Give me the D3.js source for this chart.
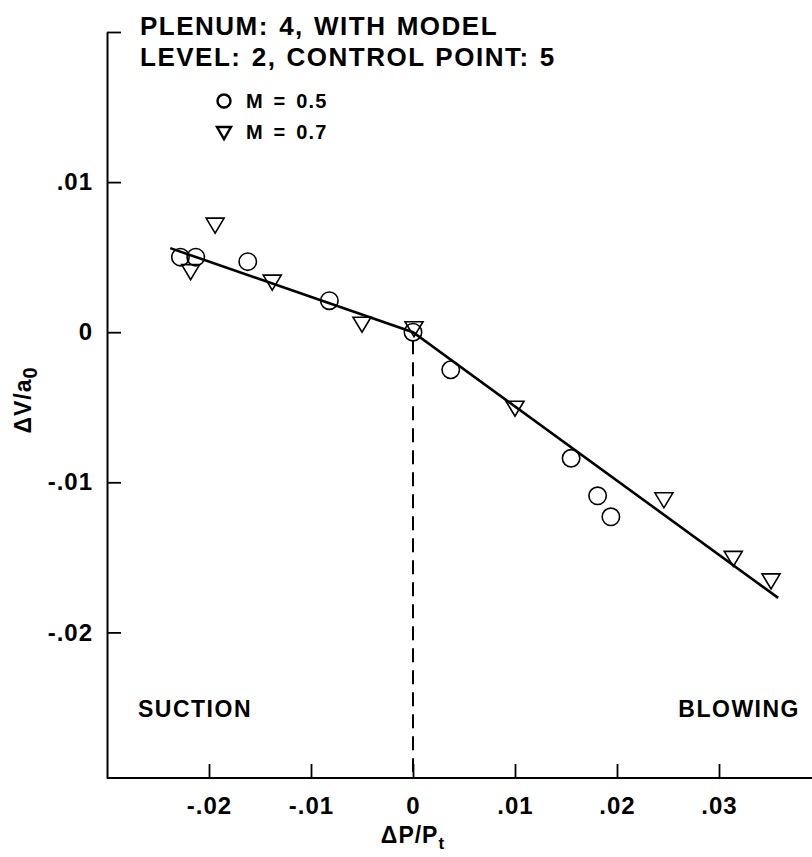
<!DOCTYPE html>
<html>
<head>
<meta charset="utf-8">
<script src="https://cdn.jsdelivr.net/npm/d3@7"></script>
<style>
  html, body { margin: 0; padding: 0; background: #fff; }
  svg { display: block; }
  text { font-family: "Liberation Sans", Arial, Helvetica, sans-serif; font-weight: bold; fill: #000; }
</style>
</head>
<body>
<svg id="chart" width="812" height="857"></svg>
<script>
// Plenum 4 velocity change vs. pressure ratio, two Mach numbers
const titleLines = ["PLENUM: 4, WITH MODEL", "LEVEL: 2, CONTROL POINT: 5"];
const seriesNames = ["M = 0.5", "M = 0.7"];

// M = 0.5 (circles)
const m05_dp = [-0.0228, -0.0213, -0.0162, -0.0082, 0.0000, 0.0037, 0.0155, 0.0181, 0.0194];
const m05_dv = [ 0.0050,  0.0050,  0.0047,  0.0021, 0.0000, -0.0025, -0.0084, -0.0109, -0.0123];

// M = 0.7 (inverted triangles)
const m07_dp = [-0.0194, -0.0218, -0.0138, -0.0050, 0.0001, 0.0100, 0.0246, 0.0314, 0.0351];
const m07_dv = [ 0.0071,  0.0040,  0.0033,  0.0005, 0.0002, -0.0051, -0.0112, -0.0151, -0.0166];

// Faired line (two straight segments meeting at the origin)
const fit_dp = [-0.0238, 0.0, 0.0358];
const fit_dv = [ 0.0056, 0.0, -0.0177];

const xTicks = [-0.02, -0.01, 0, 0.01, 0.02, 0.03];
const xTickLabels = ["-.02", "-.01", "0", ".01", ".02", ".03"];
const yTicks = [0.02, 0.01, 0, -0.01, -0.02];
const yTickLabels = ["", ".01", "0", "-.01", "-.02"];
const regionLabels = ["SUCTION", "BLOWING"];

const svg = d3.select("#chart");

const x = d3.scaleLinear().domain([-0.03, 0.04]).range([107, 821]);
const y = d3.scaleLinear().domain([-0.0297, 0.02]).range([778, 32]);

// Axes
const xAxis = d3.axisBottom(x)
  .tickValues(xTicks)
  .tickFormat((d, i) => xTickLabels[i])
  .tickSizeInner(-14).tickSizeOuter(0).tickPadding(19);
const yAxis = d3.axisLeft(y)
  .tickValues(yTicks)
  .tickFormat((d, i) => yTickLabels[i])
  .tickSizeInner(-14).tickSizeOuter(0).tickPadding(14);

const gx = svg.append("g").attr("transform", `translate(0,${y(-0.0297)})`).call(xAxis);
const gy = svg.append("g").attr("transform", `translate(${x(-0.03)},0)`).call(yAxis);

[gx, gy].forEach(g => {
  g.select(".domain").attr("stroke", "#000").attr("stroke-width", 2);
  g.selectAll(".tick line").attr("stroke", "#000").attr("stroke-width", 1.8);
  g.selectAll(".tick text").attr("font-size", 24).attr("letter-spacing", 1).attr("font-family", null);
});
gx.select(".domain").attr("d", `M${x(-0.03)},0H812`);

// Dashed divider at zero pressure ratio
svg.append("line")
  .attr("x1", x(0)).attr("x2", x(0))
  .attr("y1", y(0) + 8).attr("y2", y(-0.0297))
  .attr("stroke", "#000").attr("stroke-width", 2)
  .attr("stroke-dasharray", "14,8");

// Faired line
const fitPts = fit_dp.map((d, i) => [d, fit_dv[i]]);
svg.append("path")
  .attr("d", d3.line().x(d => x(d[0])).y(d => y(d[1]))(fitPts))
  .attr("fill", "none").attr("stroke", "#000").attr("stroke-width", 2.6);

// Markers
const tri = "M-9,-7.5L9,-7.5L0,7.5Z";
svg.append("g").selectAll("circle")
  .data(m05_dp.map((d, i) => [d, m05_dv[i]]))
  .join("circle")
  .attr("cx", d => x(d[0])).attr("cy", d => y(d[1])).attr("r", 8.7)
  .attr("fill", "none").attr("stroke", "#000").attr("stroke-width", 1.6);
svg.append("g").selectAll("path")
  .data(m07_dp.map((d, i) => [d, m07_dv[i]]))
  .join("path")
  .attr("d", tri)
  .attr("transform", d => `translate(${x(d[0])},${y(d[1])})`)
  .attr("fill", "none").attr("stroke", "#000").attr("stroke-width", 1.6);

// Title block
svg.append("g").selectAll("text")
  .data(titleLines)
  .join("text")
  .attr("x", 140).attr("y", (d, i) => 35 + i * 31)
  .attr("font-size", 26).attr("letter-spacing", 1.5).attr("word-spacing", 1.5)
  .text(d => d);

// Legend
const leg = svg.append("g");
leg.append("circle").attr("cx", 224).attr("cy", 101).attr("r", 6.5)
  .attr("fill", "none").attr("stroke", "#000").attr("stroke-width", 2.4);
leg.append("path").attr("d", "M-7,-6L7,-6L0,6Z").attr("transform", "translate(224,133)")
  .attr("fill", "none").attr("stroke", "#000").attr("stroke-width", 2.4);
leg.selectAll("text").data(seriesNames).join("text")
  .attr("x", 246).attr("y", (d, i) => 108 + i * 31)
  .attr("font-size", 20).attr("letter-spacing", 1.2).attr("word-spacing", 3)
  .text(d => d);

// Region labels
svg.append("text").attr("x", 138).attr("y", 717).attr("font-size", 23).attr("letter-spacing", 1.5).text(regionLabels[0]);
svg.append("text").attr("x", 800).attr("y", 717).attr("font-size", 23).attr("letter-spacing", 1.5)
  .attr("text-anchor", "end").text(regionLabels[1]);

// Axis titles
const xt = svg.append("text").attr("x", x(0)).attr("y", 843).attr("font-size", 23)
  .attr("letter-spacing", 1).attr("text-anchor", "middle");
xt.append("tspan").text("ΔP/P");
xt.append("tspan").attr("dy", 6).attr("font-size", 17).text("t");

const yt = svg.append("text").attr("transform", "translate(31,400) rotate(-90)")
  .attr("font-size", 23).attr("letter-spacing", 1).attr("text-anchor", "middle");
yt.append("tspan").text("ΔV/a");
yt.append("tspan").attr("dy", 6).attr("font-size", 20).text("0");
</script>
</body>
</html>
